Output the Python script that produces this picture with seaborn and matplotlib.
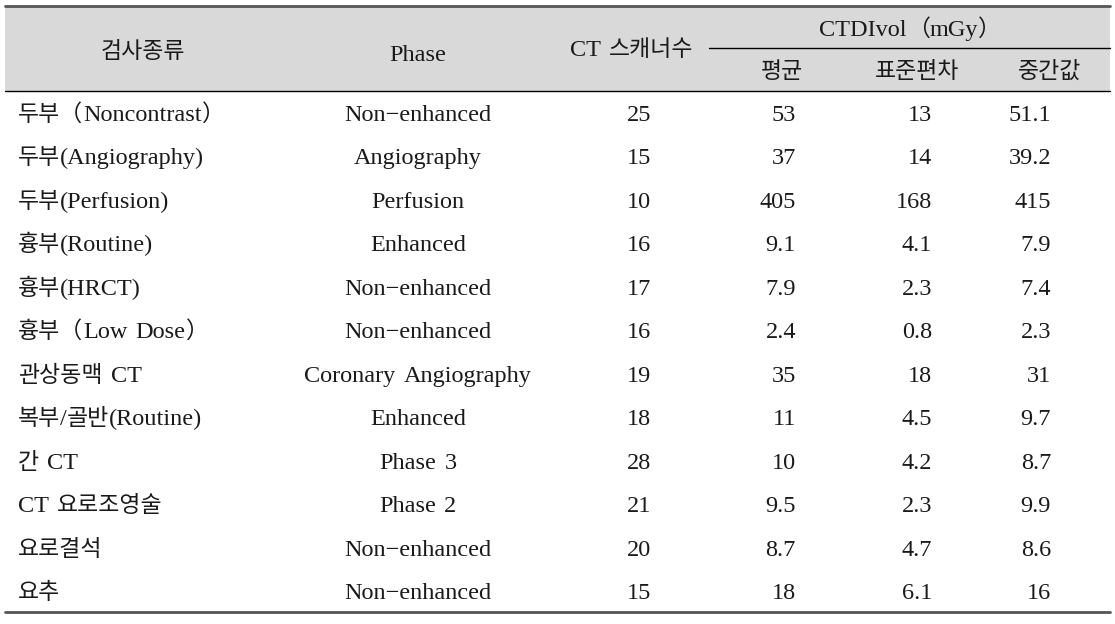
import matplotlib
matplotlib.use("Agg")
import matplotlib.pyplot as plt
import seaborn as sns
import pandas as pd

# table data
exam = ['두부（Noncontrast）', '두부(Angiography)', '두부(Perfusion)', '흉부(Routine)',
        '흉부(HRCT)', '흉부（Low Dose）', '관상동맥 CT', '복부/골반(Routine)',
        '간 CT', 'CT 요로조영술', '요로결석', '요추']
phase = ['Non−enhanced', 'Angiography', 'Perfusion', 'Enhanced', 'Non−enhanced',
         'Non−enhanced', 'Coronary Angiography', 'Enhanced', 'Phase 3', 'Phase 2',
         'Non−enhanced', 'Non−enhanced']
scanners = [25, 15, 10, 16, 17, 16, 19, 18, 28, 21, 20, 15]
mean = [53, 37, 405, 9.1, 7.9, 2.4, 35, 11, 10, 9.5, 8.7, 18]
sd = [13, 14, 168, 4.1, 2.3, 0.8, 18, 4.5, 4.2, 2.3, 4.7, 6.1]
median = [51.1, 39.2, 415, 7.9, 7.4, 2.3, 31, 9.7, 8.7, 9.9, 8.6, 16]

df = pd.DataFrame({'exam': exam, 'phase': phase, 'n': scanners,
                   'mean': mean, 'sd': sd, 'median': median})

sns.set_theme(style="white")
plt.rcParams['font.family'] = ['Liberation Serif', 'Noto Sans CJK KR']
tc = '#1a1a1a'
lat = dict(family='Liberation Serif', fontsize=17.5)
kor = dict(family='Noto Sans CJK KR', fontsize=16.5, fontweight='medium')
space_w = 8

fig = plt.figure(figsize=(11.15, 6.24), dpi=100)
ax = fig.add_axes([0, 0, 1, 1])
ax.set_xlim(0, 1115)
ax.set_ylim(624, 0)
ax.axis('off')
renderer = fig.canvas.get_renderer()


def split_runs(s):
    runs = []
    for ch in s:
        kind = 'sp' if ch == ' ' else ('ko' if ord(ch) >= 0x3000 else 'la')
        if runs and runs[-1][0] == kind:
            runs[-1][1] += ch
        else:
            runs.append([kind, ch])
    return runs


# mixed Korean / Latin text, Latin a bit larger like the Batang original
def mixed_text(x, y, s, ha='left'):
    items, total = [], 0
    for kind, chunk in split_runs(s):
        if kind == 'sp':
            total += space_w * len(chunk)
            continue
        t = ax.text(0, y, chunk, color=tc, va='baseline', ha='left',
                    **(kor if kind == 'ko' else lat))
        w = t.get_window_extent(renderer).width
        items.append((t, total))
        total += w
    start = {'left': x, 'center': x - total / 2, 'right': x - total}[ha]
    for t, off in items:
        t.set_x(start + off)


# header band and rules
ax.add_patch(plt.Rectangle((5, 6), 1105, 85, color='#d9d9d9', lw=0, zorder=0))
ax.plot([5, 1110], [6, 6], color='#555555', lw=2)
ax.plot([5, 1110], [91, 91], color='black', lw=1)
ax.plot([709, 1110], [48, 48], color='black', lw=1)
ax.plot([5, 1110], [612, 612], color='#555555', lw=2)

# header text
mixed_text(143, 58, '검사종류', 'center')
mixed_text(418, 61, 'Phase', 'center')
mixed_text(632, 56, 'CT 스캐너수', 'center')
mixed_text(910, 36, 'CTDIvol（mGy）', 'center')
mixed_text(782, 78, '평균', 'center')
mixed_text(917, 78, '표준편차', 'center')
mixed_text(1050, 78, '중간값', 'center')

# body rows
y0, dy = 121, 43.45
for i, r in df.iterrows():
    y = y0 + i * dy
    mixed_text(18, y, r['exam'], 'left')
    mixed_text(418, y, r['phase'], 'center')
    for xr, col in [(651, 'n'), (796, 'mean'), (932, 'sd'), (1051, 'median')]:
        ax.text(xr, y, f"{r[col]:g}", ha='right', va='baseline', color=tc, **lat)

fig.savefig('out.png', dpi=100)
